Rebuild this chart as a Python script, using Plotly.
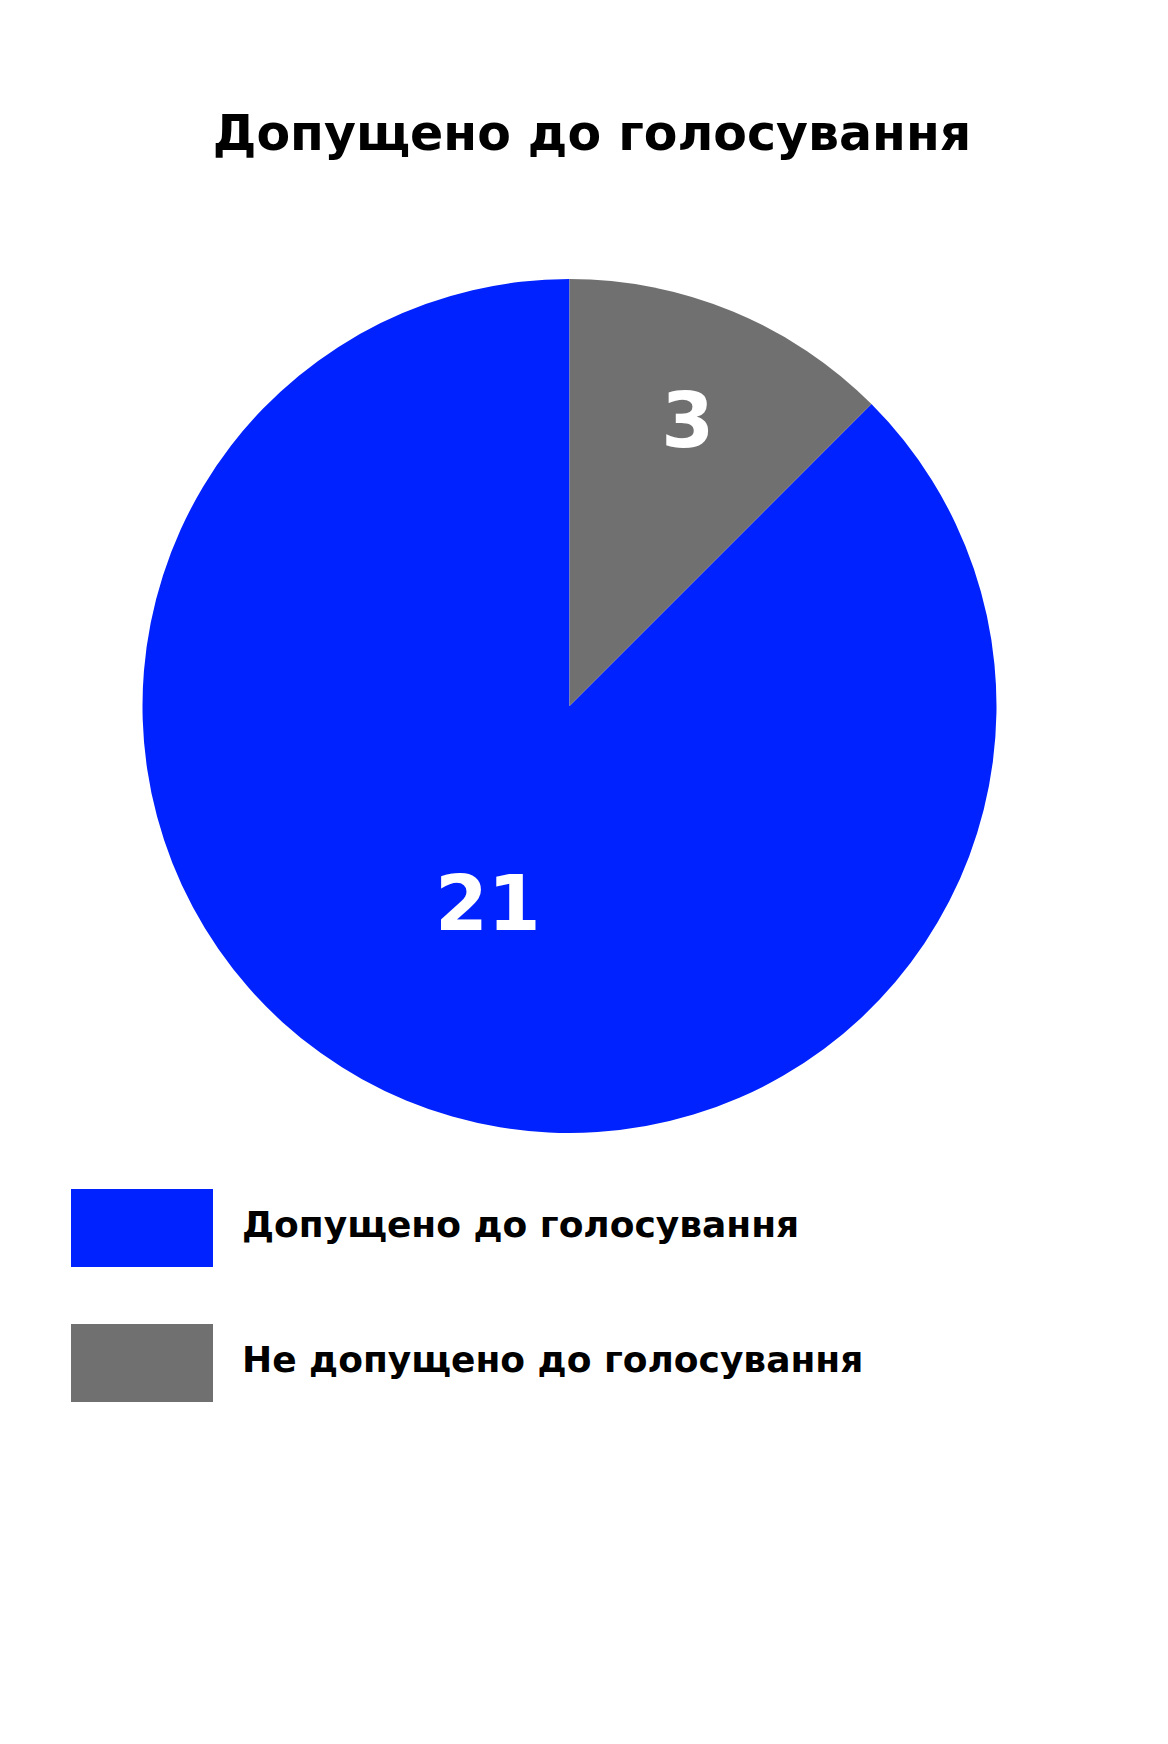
import plotly.graph_objects as go

# Data
labels = ["Допущено до голосування", "Не допущено до голосування"]
values = [21, 3]
colors = ["#0022ff", "#707070"]
title_text = "Допущено до голосування"

W, H = 1168, 1744
FONT = "DejaVu Sans"
CX, CY, R = 561.5, 698, 427

fig = go.Figure()
fig.add_trace(go.Pie(
    labels=labels,
    values=values,
    marker=dict(colors=colors, line=dict(width=0)),
    textinfo="value",
    textposition="inside",
    insidetextorientation="horizontal",
    textfont=dict(family=FONT, size=76, color="white", weight="bold"),
    sort=False,
    direction="clockwise",
    rotation=45,
    showlegend=False,
    hoverinfo="label+value",
    domain=dict(x=[(CX - R) / W, (CX + R) / W],
                y=[1 - (CY + R) / H, 1 - (CY - R) / H]),
))

# Custom legend (large swatches) built from the data lists
shapes = []
annotations = []
box_x0, box_x1 = 63, 205
row_tops = [1181, 1316]
box_h = 78
for i, (lab, col) in enumerate(zip(labels, colors)):
    y0 = row_tops[i]
    shapes.append(dict(type="rect", xref="paper", yref="paper",
                       x0=box_x0 / W, x1=box_x1 / W,
                       y0=1 - (y0 + box_h) / H, y1=1 - y0 / H,
                       fillcolor=col, line=dict(width=0)))
    annotations.append(dict(text=lab, xref="paper", yref="paper",
                            x=232 / W, y=1 - (y0 + box_h / 2 - 4) / H,
                            xanchor="left", yanchor="middle", showarrow=False,
                            font=dict(family=FONT, size=36, color="black", weight="bold")))

fig.update_layout(
    width=W, height=H,
    margin=dict(l=0, r=0, t=0, b=0),
    paper_bgcolor="white",
    plot_bgcolor="white",
    title=dict(text=title_text, x=0.5, xanchor="center", xref="paper",
               y=1 - 125 / H, yanchor="middle", yref="paper",
               font=dict(family=FONT, size=49, color="black", weight="bold")),
    shapes=shapes,
    annotations=annotations,
)

fig.write_html("out.html")
